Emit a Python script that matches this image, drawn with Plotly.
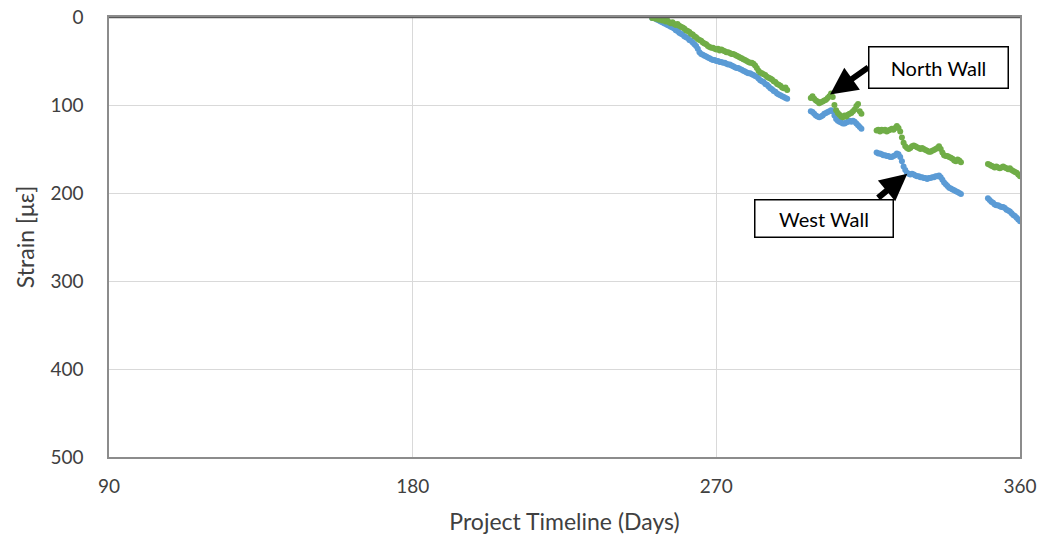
import plotly.graph_objects as go

# ---- data ----
seg1_days = [251.0 + 0.5 * i for i in range(81)]
seg2_days = [298.0 + 0.5 * i for i in range(31)]
seg3_days = [317.5 + 0.5 * i for i in range(51)]
seg4_days = [350.5 + 0.5 * i for i in range(20)]

north_seg1 = [1, 0, 2, 1, 3, 2, 4, 3, 5, 4, 6, 7, 6, 8, 9, 8, 10, 11, 12, 13,
              15, 16, 17, 19, 20, 22, 23, 25, 26, 27, 29, 30, 31, 33, 34, 35, 35, 36, 37, 36,
              38, 37, 38, 39, 40, 40, 41, 42, 42, 43, 44, 45, 46, 47, 48, 49, 50, 51, 52, 52,
              53, 55, 58, 61, 63, 64, 65, 66, 68, 69, 70, 71, 73, 74, 76, 77, 78, 80, 81, 80, 83]
west_seg1 = [1, 0, 2, 3, 4, 5, 6, 7, 8, 9, 10, 11, 12, 13, 15, 16, 18, 19, 20, 22,
             23, 24, 26, 27, 29, 31, 33, 36, 40, 42, 43, 44, 45, 46, 47, 48, 49, 49, 50, 50,
             51, 51, 52, 52, 53, 54, 54, 55, 56, 57, 58, 58, 59, 60, 61, 62, 63, 64, 64, 65,
             66, 67, 68, 70, 72, 73, 74, 76, 77, 79, 81, 82, 84, 85, 87, 88, 89, 90, 91, 92, 93]

north_seg2 = [92, 90, 93, 95, 96, 98, 97, 96, 95, 94, 92, 90, 87, 91, 100, 106, 109, 111, 113, 114,
              112, 113, 111, 110, 109, 107, 105, 101, 99, 107, 110]
west_seg2 = [107, 108, 110, 112, 113, 114, 113, 112, 110, 109, 108, 107, 106, 107, 112, 116, 118, 119, 120, 121,
             121, 120, 119, 118, 119, 118, 119, 121, 123, 125, 127]

north_seg3 = [129, 128, 130, 128, 129, 128, 130, 129, 128, 127, 128, 126, 124, 126, 130, 137, 143, 147, 149, 150,
              149, 147, 146, 147, 148, 149, 150, 149, 150, 151, 152, 153, 153, 152, 151, 150, 149, 147, 150, 154,
              157, 158, 158, 159, 160, 161, 163, 164, 162, 163, 165]
west_seg3 = [154, 155, 155, 156, 157, 157, 158, 158, 159, 159, 158, 157, 155, 156, 159, 164, 170, 174, 177, 178,
             179, 178, 179, 180, 181, 181, 182, 182, 183, 183, 184, 183, 183, 182, 182, 181, 181, 180, 182, 185,
             188, 190, 192, 194, 195, 196, 197, 198, 199, 200, 201]

north_seg4 = [167, 168, 169, 170, 171, 170, 171, 172, 171, 170, 171, 172, 173, 172, 174, 175, 176, 177, 179, 181]
west_seg4 = [206, 208, 210, 211, 213, 214, 214, 215, 216, 216, 217, 219, 220, 221, 223, 225, 226, 228, 230, 232]

days = seg1_days + seg2_days + seg3_days + seg4_days
north_wall = north_seg1 + north_seg2 + north_seg3 + north_seg4
west_wall = west_seg1 + west_seg2 + west_seg3 + west_seg4

x_ticks = [90, 180, 270, 360]
y_ticks = [0, 100, 200, 300, 400, 500]

BLUE = "#5B9BD5"
GREEN = "#70AD47"
FONT = "Lato, 'Open Sans', sans-serif"

fig = go.Figure()
fig.add_trace(go.Scatter(x=days, y=west_wall, mode="markers", name="West Wall",
                         marker=dict(color=BLUE, size=6, line=dict(width=0))))
fig.add_trace(go.Scatter(x=days, y=north_wall, mode="markers", name="North Wall",
                         marker=dict(color=GREEN, size=6, line=dict(width=0))))

# arrows (drawn first so the boxes sit on top of their tails)
fig.add_annotation(x=303.7, y=88, ax=315.5, ay=56, xref="x", yref="y", axref="x", ayref="y",
                   text="", showarrow=True, arrowhead=2, arrowsize=0.9, arrowwidth=6, arrowcolor="black")
fig.add_annotation(x=326.6, y=178, ax=317.5, ay=207, xref="x", yref="y", axref="x", ayref="y",
                   text="", showarrow=True, arrowhead=2, arrowsize=0.9, arrowwidth=6, arrowcolor="black")
# labels
fig.add_annotation(x=335.7, y=57, xref="x", yref="y", text="North Wall", showarrow=False,
                   font=dict(family=FONT, size=20, color="black"), bgcolor="white",
                   bordercolor="black", borderwidth=1.5, borderpad=3, width=132, height=34, align="center")
fig.add_annotation(x=301.8, y=229.5, xref="x", yref="y", text="West Wall", showarrow=False,
                   font=dict(family=FONT, size=20, color="black"), bgcolor="white",
                   bordercolor="black", borderwidth=1.5, borderpad=3, width=131, height=30, align="center")

# darker horizontal axis line at strain 0 (top)
fig.add_shape(type="line", xref="paper", yref="y", x0=0, x1=1, y0=0, y1=0,
              line=dict(color="#595959", width=2.5))

fig.update_layout(
    width=1049, height=546,
    margin=dict(l=109, r=29, t=17, b=89, autoexpand=False),
    paper_bgcolor="white", plot_bgcolor="white",
    showlegend=False,
    font=dict(family=FONT, size=19, color="#404040"),
)
fig.update_xaxes(range=[90, 360], tickvals=x_ticks, ticks="", showgrid=True,
                 gridcolor="#d9d9d9", gridwidth=1, zeroline=False,
                 showline=True, mirror=True, linecolor="#8c8c8c", linewidth=1.5,
                 ticklabelstandoff=11, automargin=False,
                 title=dict(text="Project Timeline (Days)", font=dict(size=23, color="#404040"), standoff=18))
fig.update_yaxes(range=[500, 0], tickvals=y_ticks, ticks="", showgrid=True,
                 gridcolor="#d9d9d9", gridwidth=1, zeroline=False,
                 showline=True, mirror=True, linecolor="#8c8c8c", linewidth=1.5,
                 ticklabelstandoff=20, automargin=False,
                 title=dict(text="Strain [με]", font=dict(size=23, color="#404040"), standoff=9))

fig.write_html("out.html", config={"displayModeBar": False},
               post_script="document.body.style.margin='0';document.body.style.overflow='hidden';")
